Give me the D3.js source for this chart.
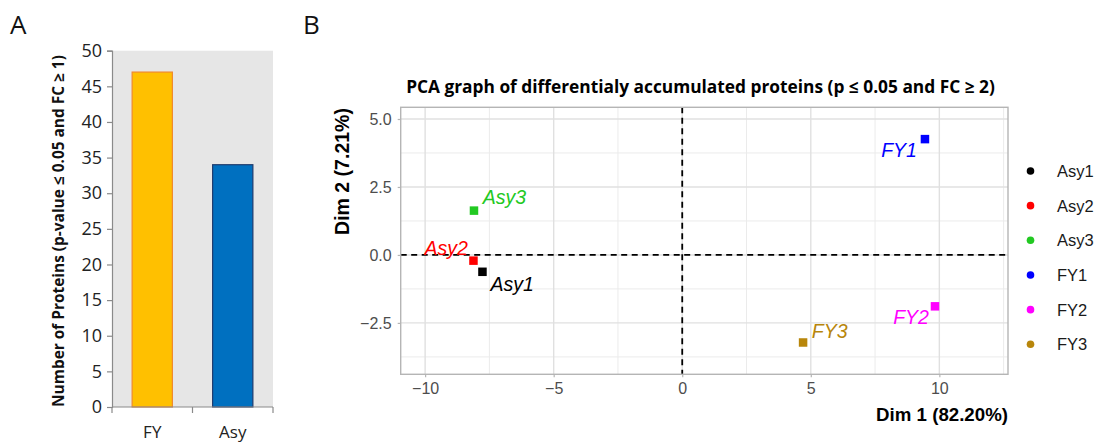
<!DOCTYPE html>
<html>
<head>
<meta charset="utf-8">
<script src="https://cdn.jsdelivr.net/npm/d3@7"></script>
<style>
  body { margin: 0; background: #fff; }
  svg { display: block; }
</style>
</head>
<body>
<svg id="fig" width="1101" height="443"></svg>
<script>
// ---- Panel A: number of differentially accumulated proteins ----
const barCategories = ["FY", "Asy"];
const barValues = [47, 34];
const barTicks = [0, 5, 10, 15, 20, 25, 30, 35, 40, 45, 50];

// ---- Panel B: PCA scores of the six samples ----
const samples = ["Asy1", "Asy2", "Asy3", "FY1", "FY2", "FY3"];
const dim1Scores = [-7.77, -8.12, -8.10, 9.44, 9.83, 4.70];
const dim2Scores = [-0.62, -0.21, 1.63, 4.26, -1.89, -3.22];
const xTicksB = [-10, -5, 0, 5, 10];
const yTicksB = [-2.5, 0, 2.5, 5];
const xMinorB = [-7.5, -2.5, 2.5, 7.5, 12.5];
const yMinorB = [-3.75, -1.25, 1.25, 3.75];

const svg = d3.select("#fig");

// Shrink or grow a text node's font so it spans the given width.
function fitWidth(sel, target) {
  const node = sel.node();
  const fs = parseFloat(sel.attr("font-size"));
  const w = node.getComputedTextLength();
  sel.attr("font-size", (fs * target / w).toFixed(2));
}

/* ================= Panel A ================= */
const A = { left: 112, right: 273, top: 50.7, bottom: 407 };
const gA = svg.append("g").attr("font-family", "'Open Sans', sans-serif");

gA.append("text").attr("x", 10).attr("y", 34).attr("font-size", 26)
  .attr("fill", "#111").text("A");

const xA = d3.scaleBand().domain(barCategories).range([A.left, A.right]).paddingInner(0.5).paddingOuter(0.25);
const yA = d3.scaleLinear().domain([0, 50]).range([A.bottom, A.top]);

gA.append("rect").attr("x", A.left).attr("y", A.top)
  .attr("width", A.right - A.left).attr("height", A.bottom - A.top)
  .attr("fill", "#e6e6e6");

const barFill = { FY: "#FFC000", Asy: "#0070C0" };
const barStroke = { FY: "#F08A2C", Asy: "#1F3B6E" };
gA.selectAll("rect.bar").data(barCategories).join("rect")
  .attr("class", "bar")
  .attr("x", d => xA(d))
  .attr("width", xA.bandwidth())
  .attr("y", (d, i) => yA(barValues[i]))
  .attr("height", (d, i) => yA(0) - yA(barValues[i]))
  .attr("fill", d => barFill[d])
  .attr("stroke", d => barStroke[d])
  .attr("stroke-width", 1.2);

// y axis
const yAxisA = d3.axisLeft(yA).tickValues(barTicks).tickSize(5).tickPadding(5);
const gyA = gA.append("g").attr("transform", `translate(${A.left},0)`).call(yAxisA);
gyA.select(".domain").attr("stroke", "#8a8a8a").attr("stroke-width", 1.2);
gyA.selectAll(".tick line").attr("stroke", "#8a8a8a").attr("stroke-width", 1.2);
gyA.selectAll(".tick text").attr("font-size", 18).attr("fill", "#222")
  .attr("font-family", "'Open Sans', sans-serif");

// x axis: boundary ticks between the categories
const gxA = gA.append("g");
gxA.append("line").attr("x1", A.left).attr("x2", A.right)
  .attr("y1", A.bottom).attr("y2", A.bottom)
  .attr("stroke", "#8a8a8a").attr("stroke-width", 1.2);
const catEdges = [A.left, (A.left + A.right) / 2, A.right];
gxA.selectAll("line.edge").data(catEdges).join("line").attr("class", "edge")
  .attr("x1", d => d).attr("x2", d => d)
  .attr("y1", A.bottom).attr("y2", A.bottom + 6)
  .attr("stroke", "#8a8a8a").attr("stroke-width", 1.2);
gxA.selectAll("text").data(barCategories).join("text")
  .attr("x", d => xA(d) + xA.bandwidth() / 2)
  .attr("y", 438)
  .attr("text-anchor", "middle")
  .attr("font-size", 17)
  .attr("fill", "#222")
  .text(d => d);

const yTitleA = gA.append("text")
  .attr("transform", "translate(64,231) rotate(-90)")
  .attr("text-anchor", "middle")
  .attr("font-size", 15)
  .attr("font-weight", 700)
  .attr("fill", "#111")
  .text("Number of Proteins (p-value ≤ 0.05 and FC ≥ 1)");
fitWidth(yTitleA, 352);

/* ================= Panel B ================= */
const B = { left: 400.7, right: 1008, top: 107.3, bottom: 374.3 };
const gB = svg.append("g").attr("font-family", "'Liberation Sans', Arial, sans-serif");

gB.append("text").attr("x", 303).attr("y", 34).attr("font-size", 26)
  .attr("font-family", "'Open Sans', sans-serif").attr("fill", "#111").text("B");

const xB = d3.scaleLinear().domain([-10.95, 12.67]).range([B.left, B.right]);
const yB = d3.scaleLinear().domain([-4.39, 5.43]).range([B.bottom, B.top]);

// grid
const grid = gB.append("g");
grid.selectAll("line.xmin").data(xMinorB).join("line").attr("class", "xmin")
  .attr("x1", d => xB(d)).attr("x2", d => xB(d)).attr("y1", B.top).attr("y2", B.bottom)
  .attr("stroke", "#ebebeb").attr("stroke-width", 1);
grid.selectAll("line.ymin").data(yMinorB).join("line").attr("class", "ymin")
  .attr("y1", d => yB(d)).attr("y2", d => yB(d)).attr("x1", B.left).attr("x2", B.right)
  .attr("stroke", "#ebebeb").attr("stroke-width", 1);
grid.selectAll("line.xmaj").data(xTicksB).join("line").attr("class", "xmaj")
  .attr("x1", d => xB(d)).attr("x2", d => xB(d)).attr("y1", B.top).attr("y2", B.bottom)
  .attr("stroke", "#e0e0e0").attr("stroke-width", 1.4);
grid.selectAll("line.ymaj").data(yTicksB).join("line").attr("class", "ymaj")
  .attr("y1", d => yB(d)).attr("y2", d => yB(d)).attr("x1", B.left).attr("x2", B.right)
  .attr("stroke", "#e0e0e0").attr("stroke-width", 1.4);

// reference lines at the origin
gB.append("line").attr("x1", B.left).attr("x2", B.right)
  .attr("y1", yB(0)).attr("y2", yB(0))
  .attr("stroke", "#000").attr("stroke-width", 1.8).attr("stroke-dasharray", "6,4.5");
gB.append("line").attr("x1", xB(0)).attr("x2", xB(0))
  .attr("y1", B.top).attr("y2", B.bottom)
  .attr("stroke", "#000").attr("stroke-width", 1.8).attr("stroke-dasharray", "6,4.5");

// panel border
gB.append("rect").attr("x", B.left).attr("y", B.top)
  .attr("width", B.right - B.left).attr("height", B.bottom - B.top)
  .attr("fill", "none").attr("stroke", "#b5b5b5").attr("stroke-width", 1.4);

// axes
const fmtY = d3.format(".1f");
const fmtX = v => (v < 0 ? "\u2212" + Math.abs(v) : String(v));
const gxB = gB.append("g").attr("transform", `translate(0,${B.bottom})`)
  .call(d3.axisBottom(xB).tickValues(xTicksB).tickFormat(fmtX).tickSize(3).tickPadding(5));
const gyB = gB.append("g").attr("transform", `translate(${B.left},0)`)
  .call(d3.axisLeft(yB).tickValues(yTicksB).tickFormat(v => (v < 0 ? "\u2212" + fmtY(-v) : fmtY(v))).tickSize(3).tickPadding(6));
[gxB, gyB].forEach(g => {
  g.select(".domain").remove();
  g.selectAll(".tick line").attr("stroke", "#b5b5b5").attr("stroke-width", 1.2);
  g.selectAll(".tick text").attr("font-size", 16).attr("fill", "#4d4d4d")
    .attr("font-family", "'Liberation Sans', Arial, sans-serif");
});

// titles
const titleB = gB.append("text")
  .attr("x", (406 + 995) / 2).attr("y", 93)
  .attr("text-anchor", "middle")
  .attr("font-family", "'Open Sans', sans-serif")
  .attr("font-weight", 700)
  .attr("font-size", 15)
  .attr("fill", "#000")
  .text("PCA graph of differentialy accumulated proteins (p ≤ 0.05 and FC ≥ 2)");
fitWidth(titleB, 589);

const xTitleB = gB.append("text")
  .attr("x", B.right).attr("y", 421)
  .attr("text-anchor", "end")
  .attr("font-weight", 700).attr("font-size", 18.5).attr("fill", "#000")
  .text("Dim 1 (82.20%)");
fitWidth(xTitleB, 132);

const yTitleB = gB.append("text")
  .attr("transform", `translate(349,${(108 + 235) / 2}) rotate(-90)`)
  .attr("text-anchor", "middle")
  .attr("font-weight", 700).attr("font-size", 18.5).attr("fill", "#000")
  .text("Dim 2 (7.21%)");
fitWidth(yTitleB, 127);

// points and labels
const sampleColor = d3.scaleOrdinal().domain(samples)
  .range(["#000000", "#FF0000", "#22C922", "#0000FF", "#FF00FF", "#B8860B"]);
const labelPlacement = {
  Asy1: { dx: 8, dy: 19.7, anchor: "start" },
  Asy2: { dx: -5.7, dy: -5.7, anchor: "end" },
  Asy3: { dx: 8.7, dy: -6.7, anchor: "start" },
  FY1:  { dx: -8, dy: 18, anchor: "end" },
  FY2:  { dx: -6, dy: 17.7, anchor: "end" },
  FY3:  { dx: 8.7, dy: -4.7, anchor: "start" }
};
const sq = 8.5;
gB.selectAll("rect.pt").data(samples).join("rect").attr("class", "pt")
  .attr("x", (d, i) => xB(dim1Scores[i]) - sq / 2)
  .attr("y", (d, i) => yB(dim2Scores[i]) - sq / 2)
  .attr("width", sq).attr("height", sq)
  .attr("fill", d => sampleColor(d));
gB.selectAll("text.lbl").data(samples).join("text").attr("class", "lbl")
  .attr("x", (d, i) => xB(dim1Scores[i]) + labelPlacement[d].dx)
  .attr("y", (d, i) => yB(dim2Scores[i]) + labelPlacement[d].dy)
  .attr("text-anchor", d => labelPlacement[d].anchor)
  .attr("font-style", "italic")
  .attr("font-size", 19.5)
  .attr("fill", d => sampleColor(d))
  .text(d => d);

// legend
const legend = gB.append("g");
const legY = d3.scalePoint().domain(samples).range([171, 344.3]);
legend.selectAll("circle").data(samples).join("circle")
  .attr("cx", 1030.5).attr("cy", d => legY(d)).attr("r", 3.8)
  .attr("fill", d => sampleColor(d));
legend.selectAll("text").data(samples).join("text")
  .attr("x", 1057).attr("y", d => legY(d)).attr("dy", "0.36em")
  .attr("font-size", 16.5).attr("fill", "#1a1a1a")
  .text(d => d);
</script>
</body>
</html>
